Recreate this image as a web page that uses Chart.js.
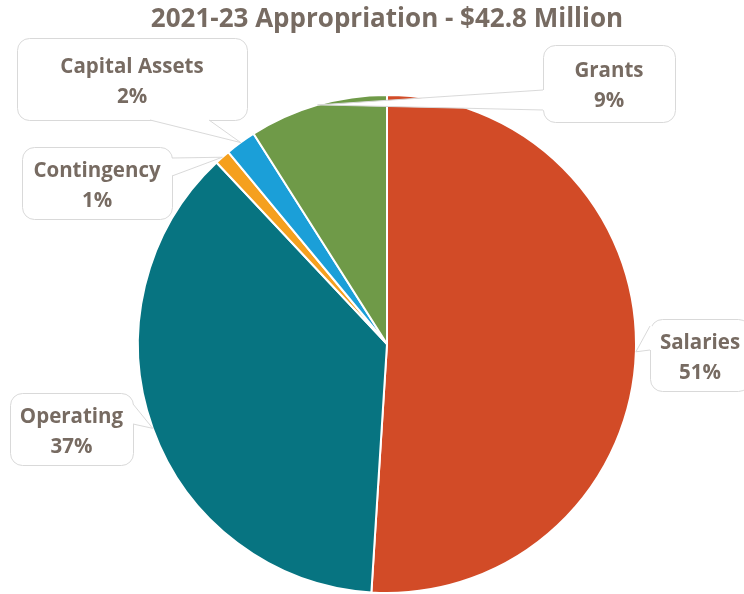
<!DOCTYPE html>
<html>
<head>
<meta charset="utf-8">
<script src="https://cdn.jsdelivr.net/npm/chart.js@4/dist/chart.umd.min.js"></script>
<style>
  html, body { margin: 0; padding: 0; background: #ffffff; }
  #wrap { width: 744px; height: 594px; position: relative; }
</style>
</head>
<body>
<div id="wrap"><canvas id="pie" width="744" height="594"></canvas></div>
<script>
// Budget shares of the 2021-23 appropriation (percent)
const categories = ['Salaries', 'Operating', 'Contingency', 'Capital Assets', 'Grants'];
const shares = [51, 37, 1, 2, 9];
const sliceColors = ['#d24b27', '#077481', '#f5a01e', '#1b9fd8', '#6f9a48'];
const titleText = '2021-23 Appropriation - $42.8 Million';

const TEXT_COLOR = '#776b62';
const FONT = '"Open Sans", "Noto Sans", sans-serif';

// Callout boxes: rectangle plus the edge the pointer leaves from
const callouts = [
  { x: 650, y: 319, w: 100, h: 72, side: 'left',   a: 326, b: 350 },
  { x: 10,  y: 393, w: 123, h: 72, side: 'right',  a: 404, b: 424 },
  { x: 22,  y: 147, w: 150, h: 72, side: 'right',  a: 158, b: 176 },
  { x: 17,  y: 38,  w: 230, h: 82, side: 'bottom', a: 150, b: 209 },
  { x: 543, y: 45,  w: 132, h: 77, side: 'left',   a: 90,  b: 110 }
];

function roundRectPath(ctx, x, y, w, h, r) {
  ctx.beginPath();
  ctx.moveTo(x + r, y);
  ctx.lineTo(x + w - r, y);
  ctx.arcTo(x + w, y, x + w, y + r, r);
  ctx.lineTo(x + w, y + h - r);
  ctx.arcTo(x + w, y + h, x + w - r, y + h, r);
  ctx.lineTo(x + r, y + h);
  ctx.arcTo(x, y + h, x, y + h - r, r);
  ctx.lineTo(x, y + r);
  ctx.arcTo(x, y, x + r, y, r);
  ctx.closePath();
}

const calloutPlugin = {
  id: 'callouts',
  afterDatasetsDraw(chart) {
    const ctx = chart.ctx;
    const meta = chart.getDatasetMeta(0);
    const total = shares.reduce((s, v) => s + v, 0);
    ctx.save();
    meta.data.forEach((arc, i) => {
      const c = callouts[i];
      const mid = (arc.startAngle + arc.endAngle) / 2;
      const tipX = arc.x + Math.cos(mid) * arc.outerRadius;
      const tipY = arc.y + Math.sin(mid) * arc.outerRadius;
      let p1, p2, q1, q2;
      if (c.side === 'left') {
        p1 = [c.x, c.a]; p2 = [c.x, c.b]; q1 = [c.x + 2, c.a]; q2 = [c.x + 2, c.b];
      } else if (c.side === 'right') {
        p1 = [c.x + c.w, c.a]; p2 = [c.x + c.w, c.b]; q1 = [c.x + c.w - 2, c.a]; q2 = [c.x + c.w - 2, c.b];
      } else {
        p1 = [c.a, c.y + c.h]; p2 = [c.b, c.y + c.h]; q1 = [c.a, c.y + c.h - 2]; q2 = [c.b, c.y + c.h - 2];
      }
      // box
      roundRectPath(ctx, c.x + 0.5, c.y + 0.5, c.w, c.h, 12);
      ctx.fillStyle = '#ffffff';
      ctx.fill();
      ctx.strokeStyle = '#d9d9d9';
      ctx.lineWidth = 1;
      ctx.stroke();
      // pointer
      ctx.beginPath();
      ctx.moveTo(q1[0], q1[1]);
      ctx.lineTo(p1[0], p1[1]);
      ctx.lineTo(tipX, tipY);
      ctx.lineTo(p2[0], p2[1]);
      ctx.lineTo(q2[0], q2[1]);
      ctx.closePath();
      ctx.fillStyle = '#ffffff';
      ctx.fill();
      ctx.beginPath();
      ctx.moveTo(p1[0], p1[1]);
      ctx.lineTo(tipX, tipY);
      ctx.lineTo(p2[0], p2[1]);
      ctx.strokeStyle = '#d9d9d9';
      ctx.stroke();
      // text
      const cx = c.x + c.w / 2;
      const cy = c.y + c.h / 2;
      ctx.fillStyle = TEXT_COLOR;
      ctx.font = 'bold 20.5px ' + FONT;
      ctx.textAlign = 'center';
      ctx.textBaseline = 'middle';
      ctx.fillText(categories[i], cx, cy - 12);
      ctx.fillText(Math.round(shares[i] / total * 100) + '%', cx, cy + 18);
    });
    // title
    ctx.fillStyle = TEXT_COLOR;
    ctx.font = 'bold 26px ' + FONT;
    ctx.textAlign = 'center';
    ctx.textBaseline = 'middle';
    ctx.fillText(titleText, 387, 20);
    ctx.restore();
  }
};

new Chart(document.getElementById('pie'), {
  type: 'pie',
  data: {
    labels: categories,
    datasets: [{
      data: shares,
      backgroundColor: sliceColors,
      borderColor: '#ffffff',
      borderWidth: 2
    }]
  },
  options: {
    responsive: false,
    animation: false,
    layout: { padding: { top: 94, bottom: 0, left: 30, right: 0 } },
    plugins: {
      legend: { display: false },
      tooltip: { enabled: false },
      title: { display: false }
    }
  },
  plugins: [calloutPlugin]
});
</script>
</body>
</html>
